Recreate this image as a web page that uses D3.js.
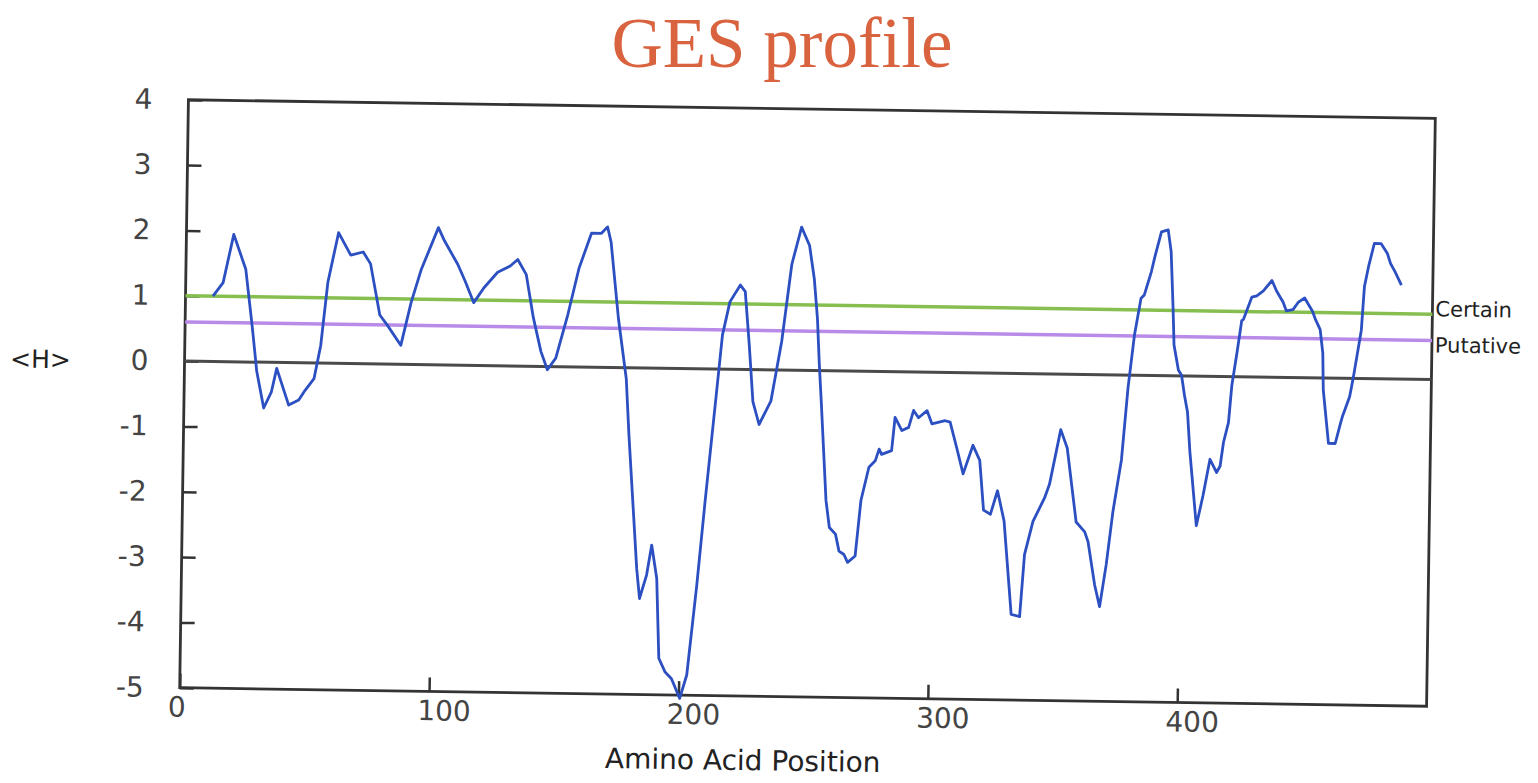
<!DOCTYPE html>
<html>
<head>
<meta charset="utf-8">
<script src="https://cdn.jsdelivr.net/npm/d3@7/dist/d3.min.js"></script>
<style>
  body { margin: 0; background: #fff; }
  svg { display: block; }
</style>
</head>
<body>
<svg id="chart" width="1538" height="783"></svg>
<script>
// GES hydrophobicity profile
const positions = [
  11, 15, 19, 24, 27, 29, 32, 35, 37, 42, 46, 48.5, 52, 54.5, 57, 61, 66, 71, 74, 78,
  81, 86.6, 90.5, 94.4, 101, 103.5, 109, 112, 115.6, 119.6, 125, 130, 133, 136.5, 139.6, 142.8,
  145.5, 148.8, 153.4, 157.6, 162.4, 166.4, 168.8, 170.3, 173.7, 177.2, 178.6, 182.5, 183.8, 186.5,
  188.4, 190.6, 191.9, 194.5, 197.1, 200.5, 203.2, 206.7, 209.5, 213.1, 215.5, 218.3, 222.4, 224.4,
  226.3, 228.1, 230.7, 235.3, 239.3, 242.9, 246.6, 249.9, 252, 253.5, 254.5, 255.5, 258, 259.5,
  262, 263.5, 265.5, 267, 270, 272, 275, 277.5, 279, 280, 284, 285.2, 288, 290.7, 292.6, 294.6,
  298, 300, 305.3, 307.3, 310, 312.8, 316.6, 319.4, 321.2, 324, 326.7, 329.5, 332.9, 336.3, 337.9,
  341.1, 345.6, 347.5, 351.7, 354.4, 358.4, 361.9, 363.3, 366.2, 368.3, 370.7, 373.1, 376.2, 378.4,
  380.7, 383.1, 384.4, 387.1, 388.3, 390.9, 393.6, 394.9, 396, 396.6, 398.5, 399.8, 401.1, 402.4,
  403.6, 406.6, 409.1, 411.7, 414.4, 415.8, 417, 418.9, 420, 421.9, 423.6, 424.3, 427.5, 429.5,
  432.1, 435.5, 437.4, 440.1, 441.4, 444.1, 446.1, 448.7, 451.9, 453.2, 455.1, 456.3, 456.7, 457.9,
  459.1, 461.8, 463.8, 464.5, 467.3, 468.7, 471.6, 472.6, 474.1, 476.3, 479, 481.6, 482.9, 484.8, 487.4
]
const hValues = [
  1.00, 1.21, 1.95, 1.42, 0.52, -0.14, -0.70, -0.45, -0.09, -0.65, -0.57, -0.42, -0.24, 0.27, 1.24, 2.00, 1.66, 1.71, 1.53, 0.75,
  0.60, 0.29, 0.95, 1.46, 2.10, 1.90, 1.54, 1.29, 0.96, 1.19, 1.43, 1.53, 1.63, 1.40, 0.74, 0.23,
  -0.05, 0.13, 0.80, 1.51, 2.05, 2.05, 2.15, 1.92, 0.75, -0.17, -1.03, -3.07, -3.53, -3.17,
  -2.71, -3.22, -4.44, -4.65, -4.75, -5.05, -4.69, -3.31, -2.04, -0.51, 0.52, 1.03, 1.29, 1.19,
  0.38, -0.49, -0.84, -0.48, 0.44, 1.62, 2.19, 1.91, 1.40, 0.79, 0.10, -0.47, -1.99, -2.40,
  -2.50, -2.76, -2.81, -2.93, -2.83, -1.98, -1.47, -1.37, -1.19, -1.27, -1.21, -0.70, -0.90, -0.85, -0.59, -0.70,
  -0.59, -0.79, -0.74, -0.76, -1.14, -1.55, -1.11, -1.34, -2.10, -2.16, -1.80, -2.26, -3.69, -3.72, -2.77,
  -2.26, -1.90, -1.69, -0.85, -1.13, -2.26, -2.41, -2.56, -3.22, -3.55, -2.91, -2.09, -1.30, -0.20,
  0.62, 1.18, 1.23, 1.59, 1.80, 2.20, 2.23, 1.90, 1.04, 0.47, 0.09, 0.01, -0.30, -0.55,
  -1.16, -2.29, -1.83, -1.27, -1.47, -1.37, -1.01, -0.70, -0.14, 0.37, 0.86, 0.88, 1.22, 1.24,
  1.32, 1.48, 1.32, 1.15, 1.02, 1.04, 1.15, 1.22, 1.02, 0.89, 0.74, 0.38, -0.18, -0.59,
  -1.00, -1.00, -0.69, -0.59, -0.28, 0.02, 0.74, 1.41, 1.71, 2.07, 2.07, 1.92, 1.77, 1.64, 1.44
]

const thresholds = [
  {name: 'Certain', level: 1.0, color: '#86bf4f'},
  {name: 'Putative', level: 0.6, color: '#b88be9'}
]
const xTicks = [0, 100, 200, 300, 400]
const yTicks = [-5, -4, -3, -2, -1, 0, 1, 2, 3, 4]

const margin = {left: 184, top: 109}
const width = 1247
const height = 588
const tilt = 0.85 // the scan is slightly turned

const svg = d3.select('#chart')

svg.append('text')
  .attr('x', 782)
  .attr('y', 67)
  .attr('text-anchor', 'middle')
  .attr('font-family', '"Liberation Serif", "Times New Roman", serif')
  .attr('font-size', 71)
  .attr('fill', '#d9633f')
  .text('GES profile')

const root = svg.append('g')
  .attr('transform', `rotate(${tilt}, ${margin.left + width / 2}, ${margin.top + height / 2})`)

const g = root.append('g')
  .attr('transform', `translate(${margin.left},${margin.top})`)

const x = d3.scaleLinear().domain([0, 500]).range([0, width])
const y = d3.scaleLinear().domain([-5, 4]).range([height, 0])

// axes, ticks pointing inward, plain hyphen for negatives
const yAxis = g.append('g')
  .call(d3.axisLeft(y).tickValues(yTicks).tickSize(-14).tickPadding(36).tickFormat(d => String(d)))
const xAxis = g.append('g')
  .attr('transform', `translate(0,${height})`)
  .call(d3.axisBottom(x).tickValues(xTicks).tickSize(-14).tickPadding(9).tickFormat(d => String(d)))

;[xAxis, yAxis].forEach(a => {
  a.select('.domain').remove()
  a.selectAll('line').attr('stroke', '#333').attr('stroke-width', 2.5)
  a.selectAll('text')
    .attr('font-family', '"DejaVu Sans", sans-serif')
    .attr('font-size', 28)
    .attr('fill', '#444')
})
xAxis.selectAll('text').attr('text-anchor', 'start').attr('dx', -12)

// frame
g.append('rect')
  .attr('x', 0).attr('y', 0)
  .attr('width', width).attr('height', height)
  .attr('fill', 'none')
  .attr('stroke', '#333')
  .attr('stroke-width', 2.8)

// zero line
g.append('line')
  .attr('x1', 0).attr('x2', width)
  .attr('y1', y(0)).attr('y2', y(0))
  .attr('stroke', '#4a4a4a')
  .attr('stroke-width', 3)

// Certain / Putative levels
g.selectAll('.level')
  .data(thresholds)
  .enter().append('line')
  .attr('class', 'level')
  .attr('x1', 0).attr('x2', width)
  .attr('y1', d => y(d.level)).attr('y2', d => y(d.level))
  .attr('stroke', d => d.color)
  .attr('stroke-width', 3.5)

g.selectAll('.level-label')
  .data(thresholds)
  .enter().append('text')
  .attr('class', 'level-label')
  .attr('x', width + 3)
  .attr('y', d => d.name === 'Certain' ? y(d.level) + 2 : y(d.level) + 12)
  .attr('font-family', '"DejaVu Sans", sans-serif')
  .attr('font-size', 21)
  .attr('fill', '#222')
  .text(d => d.name)

// profile
const profile = positions.map((p, i) => ({pos: p, h: hValues[i]}))
g.append('path')
  .datum(profile)
  .attr('fill', 'none')
  .attr('stroke', '#2c4fc2')
  .attr('stroke-width', 2.8)
  .attr('stroke-linejoin', 'round')
  .attr('d', d3.line().x(d => x(d.pos)).y(d => y(d.h)))

// axis titles
g.append('text')
  .attr('x', 564)
  .attr('y', height + 74)
  .attr('text-anchor', 'middle')
  .attr('font-family', '"DejaVu Sans", sans-serif')
  .attr('font-size', 28)
  .attr('fill', '#222')
  .text('Amino Acid Position')

g.append('text')
  .attr('x', -144)
  .attr('y', y(0) + 9)
  .attr('text-anchor', 'middle')
  .attr('font-family', '"DejaVu Sans", sans-serif')
  .attr('font-size', 25)
  .attr('fill', '#222')
  .text('<H>')
</script>
</body>
</html>
